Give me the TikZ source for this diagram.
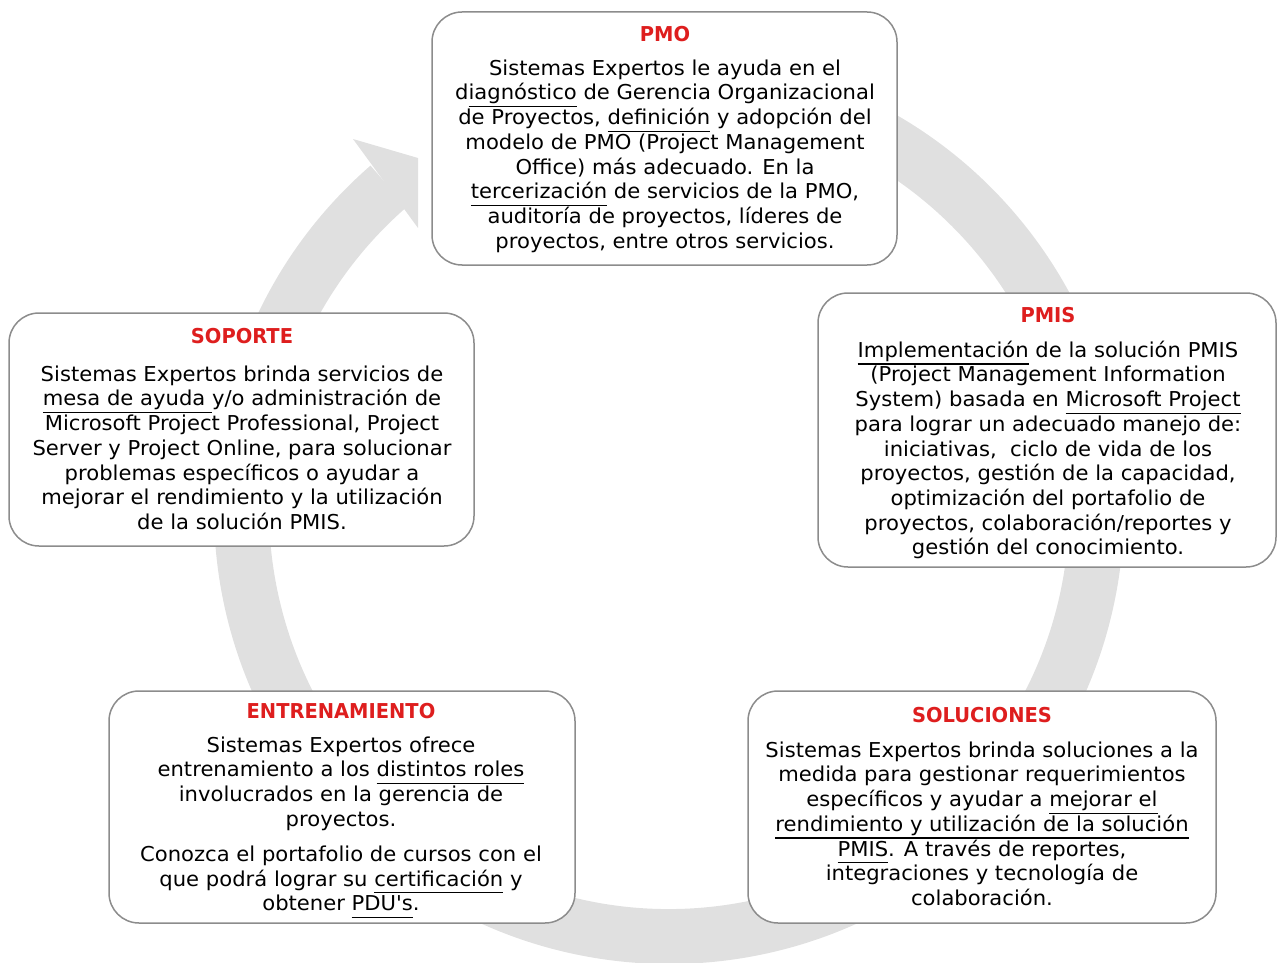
\documentclass[tikz,border=0pt]{standalone}
\usepackage{fontspec}
\newfontfamily\bodyf{DejaVu Sans}[FakeStretch=1.03]
\newfontfamily\titlef{DejaVu Sans}[FakeStretch=0.95]
\definecolor{ringgray}{RGB}{224,224,224}
\definecolor{boxgray}{RGB}{140,140,140}
\definecolor{titlered}{RGB}{222,30,30}
\newcommand\ulx[1]{\setbox0=\hbox{#1}\rlap{\rule[-7.3pt]{\wd0}{1.3pt}}\box0\relax}
\newcommand\fl{\rule{0pt}{18pt}}
\AtBeginDocument{\lineskiplimit=-30pt\relax\lineskip=0pt\relax}
\begin{document}
\begin{tikzpicture}[x=1pt,y=-1pt,
  box/.style={draw=boxgray, line width=1.5pt, fill=white, rounded corners=30pt, inner sep=0pt},
  bodytext/.style={anchor=north, inner sep=0pt, align=center, text=black,
    font=\bodyf\fontsize{20.5}{24.7}\selectfont},
  titletext/.style={anchor=base, inner sep=0pt, text=titlered,
    font=\titlef\bfseries\fontsize{20.5}{24}\selectfont}]
\useasboundingbox (0,0) rectangle (1277,963);
% ring arrow
\begin{scope}[shift={(669,509)}]
  \fill[ringgray] (229:455) arc[start angle=229, end angle=-101, radius=455]
    -- (-101:400) arc[start angle=-101, end angle=229, radius=400] -- cycle;
\end{scope}
\fill[ringgray] (353,139) -- (418,158) -- (418,228) -- cycle;
% boxes
\node[box, minimum width=465pt, minimum height=253pt] (pmo) at (664.5,138.5) {};
\node[box, minimum width=465pt, minimum height=233pt] (soporte) at (241.5,429.5) {};
\node[box, minimum width=458pt, minimum height=274pt] (pmis) at (1047,430) {};
\node[box, minimum width=466pt, minimum height=232pt] (entren) at (342,807) {};
\node[box, minimum width=468pt, minimum height=232pt] (soluc) at (982,807) {};
% titles
\node[titletext] (tpmo) at (665,42) {PMO};
\node[titletext] (tsoporte) at (242,343.5) {SOPORTE};
\node[titletext] (tpmis) at (1048,322) {PMIS};
\node[titletext] (tentren) at (341,718) {ENTRENAMIENTO};
\node[titletext] (tsoluc) at (982,722) {SOLUCIONES};
% bodies
\node[bodytext] (bpmo) at (665,57) {\fl Sistemas Expertos le ayuda en el\\
d\ulx{iagnóstico} de Gerencia Organizacional\\
de Proyectos, \ulx{definición} y adopción del\\
modelo de PMO (Project Management\\
Office) más adecuado. En la\\
\ulx{tercerización} de servicios de la PMO,\\
auditoría de proyectos, líderes de\\
proyectos, entre otros servicios.};
\node[bodytext] (bsoporte) at (242,363) {\fl Sistemas Expertos brinda servicios de\\
\ulx{mesa de ayuda }y/o administración de\\
Microsoft Project Professional, Project\\
Server y Project Online, para solucionar\\
problemas específicos o ayudar a\\
mejorar el rendimiento y la utilización\\
de la solución PMIS.};
\node[bodytext] (bpmis) at (1048,339) {\fl\ulx{Implementación} de la solución PMIS\\
(Project Management Information\\
System) basada en \ulx{Microsoft Project}\\
para lograr un adecuado manejo de:\\
iniciativas,\ \ ciclo de vida de los\\
proyectos, gestión de la capacidad,\\
optimización del portafolio de\\
proyectos, colaboración/reportes y\\
gestión del conocimiento.};
\node[bodytext] (bentren) at (341,734) {\fl Sistemas Expertos ofrece\\
entrenamiento a los \ulx{distintos roles}\\
involucrados en la gerencia de\\
proyectos.\\[10.3pt]
Conozca el portafolio de cursos con el\\
que podrá lograr su \ulx{certificación} y\\
obtener \ulx{PDU's}.};
\node[bodytext] (bsoluc) at (982,739) {\fl Sistemas Expertos brinda soluciones a la\\
medida para gestionar requerimientos\\
específicos y ayudar a \ulx{mejorar el}\\
\ulx{rendimiento y utilización de la solución}\\
\ulx{PMIS}. A través de reportes,\\
integraciones y tecnología de\\
colaboración.};
\end{tikzpicture}
\end{document}
